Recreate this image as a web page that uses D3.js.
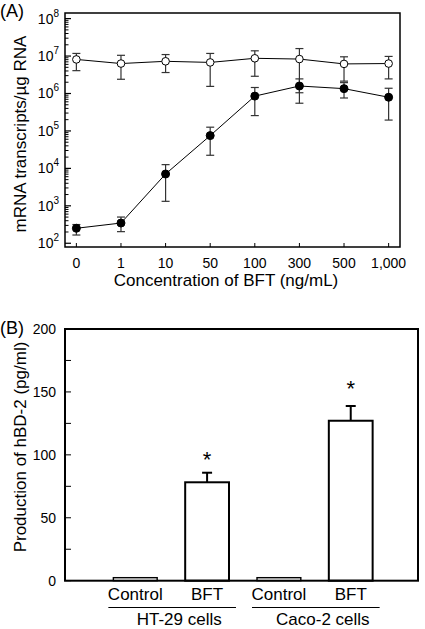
<!DOCTYPE html>
<html><head><meta charset="utf-8">
<script src="https://cdn.jsdelivr.net/npm/d3@7"></script>
<style>
html,body{margin:0;padding:0;background:#fff;}
svg{display:block;font-family:"Liberation Sans",Arial,Helvetica,sans-serif;}
</style></head>
<body>
<svg id="c" width="425" height="629"></svg>
<script>
// ---------- Panel A data ----------
const concLabels = ["0","1","10","50","100","300","500","1,000"];
// log10 values
const openLog    = [6.91, 6.80, 6.86, 6.83, 6.94, 6.92, 6.79, 6.80];
const openLogHi  = [7.07, 7.02, 7.04, 7.07, 7.14, 7.20, 6.98, 6.99];
const openLogLo  = [6.61, 6.38, 6.56, 6.19, 6.46, 6.02, 6.33, 6.39];
const filledLog   = [2.40, 2.54, 3.85, 4.875, 5.93, 6.20, 6.13, 5.90];
const filledLogHi = [2.50, 2.70, 4.10, 5.10, 6.16, 6.39, 6.29, 6.14];
const filledLogLo = [2.22, 2.31, 3.12, 4.35, 5.41, 5.74, 5.88, 5.29];
const decadeExps = [2,3,4,5,6,7,8];

// ---------- Panel B data ----------
const barCats   = ["HT-29 Control","HT-29 BFT","Caco-2 Control","Caco-2 BFT"];
const barLabels = ["Control","BFT","Control","BFT"];
const barValues = [2.4, 78.2, 2.4, 127.1];
const barErrTop = [null, 85.8, null, 138.8];
const starAt    = [null, 90, null, 147];
const groups    = [{name:"HT-29 cells", cats:["HT-29 Control","HT-29 BFT"]},
                   {name:"Caco-2 cells", cats:["Caco-2 Control","Caco-2 BFT"]}];
const bTicks    = [0,50,100,150,200];
const bMinor    = [25,75,125,175];

const svg = d3.select("#c");

// ================= Panel A =================
const A = {l:65, r:400, t:13, b:247};
const xA = d3.scalePoint().domain(concLabels).range([A.l, A.r]).padding(0.255);
const yA = d3.scaleLog().domain([Math.pow(10,1.9), Math.pow(10,8.15)]).range([A.b, A.t]);
const gA = svg.append("g");

gA.append("rect").attr("x",A.l).attr("y",A.t).attr("width",A.r-A.l).attr("height",A.b-A.t)
  .attr("fill","none").attr("stroke","#000").attr("stroke-width",1.5);

decadeExps.forEach(e=>{
  const v = Math.pow(10,e);
  gA.append("line").attr("x1",A.l).attr("x2",A.l+6).attr("y1",yA(v)).attr("y2",yA(v))
    .attr("stroke","#000").attr("stroke-width",1.2);
  const t = gA.append("text").attr("x",A.l-6).attr("y",yA(v)+5).attr("text-anchor","end")
    .attr("font-size",14);
  t.append("tspan").text("10");
  t.append("tspan").attr("dy",-7).attr("font-size",10).text(e);
  if (e<8) for (let m=2;m<=9;m++){
    const mv = m*v;
    gA.append("line").attr("x1",A.l).attr("x2",A.l+3.5).attr("y1",yA(mv)).attr("y2",yA(mv))
      .attr("stroke","#000").attr("stroke-width",1);
  }
});
concLabels.forEach(c=>{
  gA.append("line").attr("x1",xA(c)).attr("x2",xA(c)).attr("y1",A.b).attr("y2",A.b-4)
    .attr("stroke","#000").attr("stroke-width",1);
  gA.append("text").attr("x",xA(c)).attr("y",268).attr("text-anchor","middle")
    .attr("font-size",14).text(c);
});
gA.append("text").attr("x",226).attr("y",286).attr("text-anchor","middle")
  .attr("font-size",17).text("Concentration of BFT (ng/mL)");
gA.append("text").attr("transform","translate(26,134) rotate(-90)").attr("text-anchor","middle")
  .attr("font-size",17).text("mRNA transcripts/µg RNA");
gA.append("text").attr("x",0).attr("y",17).attr("font-size",18).text("(A)");

function drawSeries(vals, hi, lo, filled){
  const pts = vals.map((v,i)=>({x:xA(concLabels[i]), y:yA(Math.pow(10,v)),
     hi:yA(Math.pow(10,hi[i])), lo:yA(Math.pow(10,lo[i]))}));
  gA.append("path").attr("d", d3.line().x(d=>d.x).y(d=>d.y)(pts))
    .attr("fill","none").attr("stroke","#000").attr("stroke-width",1);
  pts.forEach(p=>{
    gA.append("line").attr("x1",p.x).attr("x2",p.x).attr("y1",p.hi).attr("y2",p.lo)
      .attr("stroke","#333").attr("stroke-width",1.2);
    [p.hi,p.lo].forEach(yy=>gA.append("line").attr("x1",p.x-4).attr("x2",p.x+4)
      .attr("y1",yy).attr("y2",yy).attr("stroke","#333").attr("stroke-width",1.2));
  });
  pts.forEach(p=>{
    gA.append("circle").attr("cx",p.x).attr("cy",p.y).attr("r",filled?4:3.8)
      .attr("fill",filled?"#000":"#fff").attr("stroke","#000").attr("stroke-width",1);
  });
}
drawSeries(openLog, openLogHi, openLogLo, false);
drawSeries(filledLog, filledLogHi, filledLogLo, true);

// ================= Panel B =================
const B = {l:65, r:418, t:329, b:580.7};
const xB = d3.scaleBand().domain(barCats).range([99, 387]).paddingInner(0.39).paddingOuter(0.2);
const yB = d3.scaleLinear().domain([0,200]).range([B.b, B.t]);
const gB = svg.append("g");

barCats.forEach((c,i)=>{
  gB.append("rect").attr("x",xB(c)).attr("y",yB(barValues[i])).attr("width",xB.bandwidth())
    .attr("height",yB(0)-yB(barValues[i])).attr("fill","#fff").attr("stroke","#000")
    .attr("stroke-width",barValues[i] < 10 ? 1.4 : 2);
  if (barErrTop[i]!=null){
    const cx = xB(c)+xB.bandwidth()/2;
    gB.append("line").attr("x1",cx).attr("x2",cx).attr("y1",yB(barValues[i])).attr("y2",yB(barErrTop[i]))
      .attr("stroke","#000").attr("stroke-width",2);
    gB.append("line").attr("x1",cx-5).attr("x2",cx+5).attr("y1",yB(barErrTop[i])).attr("y2",yB(barErrTop[i]))
      .attr("stroke","#000").attr("stroke-width",2);
  }
  if (starAt[i]!=null){
    gB.append("text").attr("x",xB(c)+xB.bandwidth()/2).attr("y",yB(starAt[i])).attr("text-anchor","middle")
      .attr("font-size",22).text("*");
  }
  gB.append("text").attr("x",xB(c)+xB.bandwidth()/2).attr("y",600).attr("text-anchor","middle")
    .attr("font-size",17).text(barLabels[i]);
});

gB.append("rect").attr("x",B.l).attr("y",B.t).attr("width",B.r-B.l).attr("height",B.b-B.t)
  .attr("fill","none").attr("stroke","#000").attr("stroke-width",2);

bTicks.concat(bMinor).forEach(v=>{
  gB.append("line").attr("x1",B.l).attr("x2",B.l+6).attr("y1",yB(v)).attr("y2",yB(v))
    .attr("stroke","#000").attr("stroke-width",1);
});
bTicks.forEach(v=>{
  gB.append("text").attr("x",56).attr("y",yB(v)+5).attr("text-anchor","end")
    .attr("font-size",14).text(v);
});

groups.forEach(g=>{
  const x0 = xB(g.cats[0]) - 5, x1 = xB(g.cats[1]) + xB.bandwidth() + 7;
  gB.append("line").attr("x1",x0).attr("x2",x1).attr("y1",607.5).attr("y2",607.5)
    .attr("stroke","#000").attr("stroke-width",1);
  gB.append("text").attr("x",(x0+x1)/2+7).attr("y",624.5).attr("text-anchor","middle")
    .attr("font-size",17).text(g.name);
});

gB.append("text").attr("transform","translate(26,447) rotate(-90)").attr("text-anchor","middle")
  .attr("font-size",17).text("Production of hBD-2 (pg/ml)");
gB.append("text").attr("x",0).attr("y",334).attr("font-size",18).text("(B)");
</script>
</body></html>
